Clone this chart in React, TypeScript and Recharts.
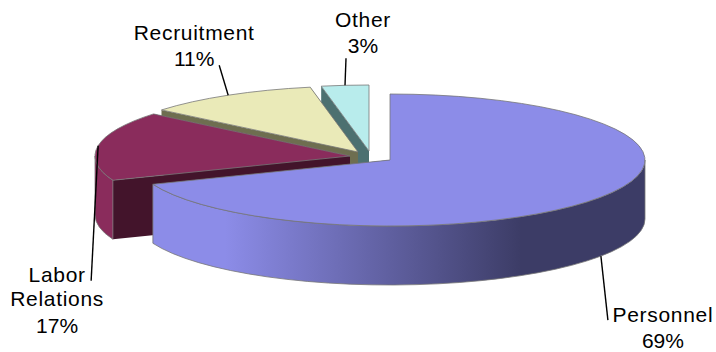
import { Pie, PieChart } from 'recharts';

const categories = ['Other', 'Recruitment', 'Labor Relations', 'Personnel'];
const shares = [3, 11, 17, 69];

const tableData = categories.map((name, i) => ({ name, value: shares[i] }));

const WIDTH = 716;
const HEIGHT = 352;
const CX = 370;
const CY = 152;
const RADIUS = 255;
const TILT = 0.2588; // vertical squash of the disc
const DEPTH = 59;

// pulled-out distance of each slice from the shared centre
const explode: Record<string, [number, number]> = {
  Other: [-1, -1],
  Recruitment: [-12, 0],
  'Labor Relations': [-20, 4],
  Personnel: [20, 8],
};

const topColors: Record<string, string> = {
  Other: '#b8ecec',
  Recruitment: '#eaeab8',
  'Labor Relations': '#8a2c5c',
  Personnel: '#8c8ce8',
};

const cutColors: Record<string, string> = {
  Other: '#4c7070',
  Recruitment: '#6e6e50',
  'Labor Relations': '#43142b',
  Personnel: '#43436e',
};

const rimColors: Record<string, string> = {
  Other: '#4c7070',
  Recruitment: '#6e6e50',
  'Labor Relations': '#8a2c5c',
  Personnel: 'url(#personnelRim)',
};

// leader end and text centre, both relative to the point where the leader leaves the slice
const labelPlacement: Record<string, { leader: [number, number]; text: [number, number] }> = {
  Other: { leader: [1, -27], text: [18, -58] },
  Recruitment: { leader: [-9, -30], text: [-34, -55] },
  'Labor Relations': { leader: [-7, 135], text: [-41, 136] },
  Personnel: { leader: [7, 64], text: [62, 66] },
};

const rad = (deg: number) => (deg * Math.PI) / 180;
const rimX = (cx: number, r: number, a: number) => cx + r * Math.cos(rad(a));
const rimY = (cy: number, r: number, a: number) => cy - r * TILT * Math.sin(rad(a));

// elliptical arc going from a1 to a2, counter-clockwise on screen
function arcTo(cx: number, cy: number, r: number, a1: number, a2: number) {
  const large = Math.abs(a2 - a1) > 180 ? 1 : 0;
  const sweep = a2 > a1 ? 0 : 1;
  return `A${r} ${r * TILT} 0 ${large} ${sweep} ${rimX(cx, r, a2)} ${rimY(cy, r, a2)}`;
}

function Slice3D(props: any) {
  const { cx, cy, outerRadius: r, startAngle, endAngle, name } = props;
  const [ox, oy] = explode[name];
  const x = cx + ox;
  const y = cy + oy;

  const cutWall = (a: number) => {
    const px = rimX(x, r, a);
    const py = rimY(y, r, a);
    return `M${x} ${y}L${px} ${py}L${px} ${py + DEPTH}L${x} ${y + DEPTH}Z`;
  };

  // the rim is only visible on the front half of the disc
  const from = Math.max(startAngle, 180);
  const to = Math.min(endAngle, 360);
  const rim =
    to > from
      ? `M${rimX(x, r, from)} ${rimY(y, r, from)}${arcTo(x, y, r, from, to)}` +
        `L${rimX(x, r, to)} ${rimY(y, r, to) + DEPTH}${arcTo(x, y + DEPTH, r, to, from)}Z`
      : null;

  const top =
    `M${x} ${y}L${rimX(x, r, startAngle)} ${rimY(y, r, startAngle)}` +
    `${arcTo(x, y, r, startAngle, endAngle)}Z`;

  return (
    <g>
      <path d={cutWall(startAngle)} fill={cutColors[name]} />
      <path d={cutWall(endAngle)} fill={cutColors[name]} />
      {rim && <path d={rim} fill={rimColors[name]} stroke="#777" strokeWidth={0.8} />}
      <path d={top} fill={topColors[name]} stroke="#777" strokeWidth={0.8} />
    </g>
  );
}

function SliceLabel(props: any) {
  const { cx, cy, outerRadius: r, midAngle, name, percent } = props;
  const [ox, oy] = explode[name];
  const front = Math.sin(rad(midAngle)) < 0;
  const sx = rimX(cx + ox, r, midAngle);
  const sy = rimY(cy + oy, r, midAngle) + (front ? DEPTH : 0);
  const place = labelPlacement[name];
  const lines = name.split(' ');
  const tx = sx + place.text[0];
  const ty = sy + place.text[1];
  return (
    <g>
      <line
        x1={sx}
        y1={sy}
        x2={sx + place.leader[0]}
        y2={sy + place.leader[1]}
        stroke="#000"
        strokeWidth={1.4}
      />
      <text x={tx} y={ty} textAnchor="middle" fontFamily="Liberation Sans" fontSize={21} fill="#000">
        {lines.map((line: string, i: number) => (
          <tspan key={line} x={tx} y={ty + i * 24.5} letterSpacing={0.7}>
            {line}
          </tspan>
        ))}
        <tspan x={tx} y={ty + lines.length * 25.5}>
          {Math.round(percent * 100)}%
        </tspan>
      </text>
    </g>
  );
}

export default function App() {
  return (
    <div style={{ position: 'absolute', left: 0, top: 0, width: WIDTH, height: HEIGHT, background: '#fff' }}>
      <PieChart width={WIDTH} height={HEIGHT} margin={{ top: 0, right: 0, bottom: 0, left: 0 }}>
        <defs>
          <linearGradient id="personnelRim" gradientUnits="userSpaceOnUse" x1="151" y1="0" x2="645" y2="0">
            <stop offset="15%" stopColor="#8c8ce8" />
            <stop offset="75%" stopColor="#3c3c66" />
          </linearGradient>
        </defs>
        <Pie
          data={tableData}
          dataKey="value"
          nameKey="name"
          cx={CX}
          cy={CY}
          innerRadius={0}
          outerRadius={RADIUS}
          startAngle={90}
          endAngle={450}
          stroke="none"
          shape={Slice3D}
          label={SliceLabel}
          labelLine={false}
          isAnimationActive={false}
        />
      </PieChart>
    </div>
  );
}
